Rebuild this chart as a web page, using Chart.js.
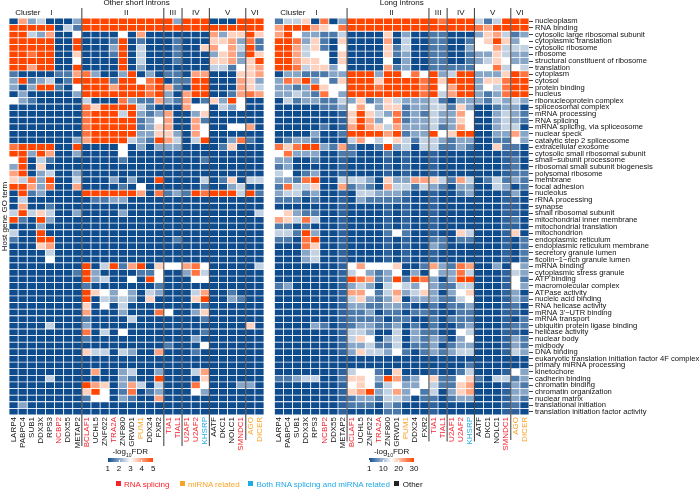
<!DOCTYPE html>
<html><head><meta charset="utf-8">
<script src="https://cdn.jsdelivr.net/npm/chart.js@4/dist/chart.umd.min.js"></script>
<style>
html,body{margin:0;padding:0;background:#fff;width:699px;height:489px;overflow:hidden;font-family:"Liberation Sans",Arial,sans-serif;color:#111}
canvas{position:absolute;top:0}
.t{position:absolute;font-size:8px;line-height:9px;white-space:nowrap}
.c{transform:translateX(-50%)}
.s{position:absolute;width:5px;height:5px;top:481px}
.bar{position:absolute;top:458px;height:4px;background:linear-gradient(to right,#0f4c8e,#fff 50%,#ff4500)}
.k{position:absolute;top:460px;width:.7px;height:2px;background:#fff}
sub{font-size:5px;line-height:0}
</style></head><body>
<canvas id="a" width="272" height="489" style="left:0"></canvas>
<canvas id="b" width="429" height="489" style="left:270px"></canvas>
<div id="o"></div>
<script>
const genes=["LARP4","PABPC4","SUB1","DDX3X","RPS3","NCBP2","DDX55","METAP2","BCLAF1","UCHL5","ZNF622","TRA2A","ZNF800","GRWD1","PUM1","DDX24","FXR2","TIA1","TIAL1","U2AF1","U2AF2","KHSRP","AATF","DKC1","NOLC1","SMNDC1","AGO","DICER"];
const splicingGenes=["NCBP2","BCLAF1","TRA2A","TIA1","TIAL1","U2AF1","U2AF2","SMNDC1"];
const mirnaGenes=["PUM1","AGO","DICER"];
const bothGenes=["KHSRP"];
const goTerms=["nucleoplasm","RNA binding","cytosolic large ribosomal subunit","cytoplasmic translation","cytosolic ribosome","ribosome","structural constituent of ribosome","translation","cytoplasm","cytosol","protein binding","nucleus","ribonucleoprotein complex","spliceosomal complex","mRNA processing","RNA splicing","mRNA splicing, via spliceosome","nuclear speck","catalytic step 2 spliceosome","extracellular exosome","cytosolic small ribosomal subunit","small−subunit processome","ribosomal small subunit biogenesis","polysomal ribosome","membrane","focal adhesion","nucleolus","rRNA processing","synapse","small ribosomal subunit","mitochondrial inner membrane","mitochondrial translation","mitochondrion","endoplasmic reticulum","endoplasmic reticulum membrane","secretory granule lumen","ficolin−1−rich granule lumen","mRNA binding","cytoplasmic stress granule","ATP binding","macromolecular complex","ATPase activity","nucleic acid binding","RNA helicase activity","mRNA 3'−UTR binding","mRNA transport","ubiquitin protein ligase binding","helicase activity","nuclear body","midbody","DNA binding","eukaryotic translation initiation factor 4F complex","primary miRNA processing","kinetochore","cadherin binding","chromatin binding","chromatin organization","nuclear matrix","translational initiation","translation initiation factor activity"];
const clusterNames=["I","II","III","IV","V","VI"];
const clusterSizes=[8,9,2,3,4,2];
// Read levels per cell, 1 (lowest, deep blue) .. 5 (white) .. 9 (highest, red-orange); a = 1.5
const shortIntronLevels=[
"17341113 999999999 93 999 1119 99",
"99999142 999999999 99 999 9999 99",
"99437115 111151711 11 111 7366 96",
"99999119 111291211 12 111 6673 82",
"99999119 111391411 12 116 7574 92",
"99899116 111291411 12 111 3673 96",
"99999115 111191411 12 111 6673 69",
"99799119 111191311 11 111 4425 67",
"21111227 831139131 22 177 1116 67",
"39234129 999299589 12 299 1117 63",
"31399215 999799989 72 199 1117 64",
"13111113 999999989 31 799 1127 87",
"53211111 411183227 32 712 6395 11",
"11111111 869999421 11 755 1435 11",
"11111111 899949323 71 136 1111 11",
"11111111 899999235 71 172 1111 11",
"11111111 899999236 71 175 1155 71",
"11111111 899999336 63 175 1111 11",
"11111113 799994329 74 149 1138 21",
"89999119 111151313 33 111 1261 11",
"99397113 111151111 11 111 1111 11",
"59142111 111121111 11 112 1111 11",
"39161111 111111111 11 111 1111 11",
"79134113 111111111 11 111 1111 11",
"64839114 111313119 11 114 1261 44",
"99738117 111121511 11 112 1134 11",
"19231111 999999718 23 298 9994 92",
"14111111 122331111 11 111 1111 11",
"17112111 111111111 11 111 1111 11",
"49464113 111131111 11 111 1111 14",
"92193111 111111111 11 111 1111 11",
"11131111 111111111 11 111 1111 11",
"41191111 111111111 11 111 1111 11",
"21199111 111111111 12 111 1111 11",
"11167111 111111111 11 111 1111 11",
"11114111 111111111 11 111 1111 11",
"11115111 111111111 11 111 1111 11",
"11111111 914927916 55 785 1111 14",
"11111112 931111225 11 384 1111 11",
"11111111 934115195 11 155 1111 11",
"11111111 211111112 11 111 1111 11",
"11111111 965353143 11 147 1121 11",
"11111111 914343161 11 169 1132 11",
"11111111 615141111 11 112 1111 11",
"11111111 711131118 51 136 1111 11",
"11111111 211114111 11 112 1111 11",
"11114111 311111111 11 111 1111 61",
"11111111 814151111 11 112 1111 11",
"11111111 211111111 11 131 1111 11",
"11111111 111111111 21 115 1111 11",
"11111111 644143117 11 121 1111 11",
"11111111 111111111 11 111 1111 11",
"11111111 111111111 11 111 1111 11",
"11111111 171134113 11 147 1111 11",
"11114111 111132119 11 116 1111 11",
"11111111 976137414 11 185 1113 31",
"11111111 695128123 11 153 1111 11",
"11111111 255132117 11 111 1111 11",
"13111111 111111111 11 111 1111 11",
"11111111 111111111 11 111 1111 11"];
const longIntronLevels=[
"24461813 999999999 98 999 4249 99",
"79997658 999999999 99 999 8799 99",
"79533224 111161311 22 111 3674 23",
"99836216 111171411 22 112 5696 35",
"99746215 111162411 22 113 5574 44",
"99745516 111162311 22 112 3364 33",
"99766516 111151311 22 112 3465 33",
"99846635 111172311 22 222 5584 54",
"13322233 999399585 93 499 3336 98",
"38793526 999699998 96 999 3668 99",
"33239655 999899998 95 799 3548 99",
"33432853 999999998 94 799 3238 99",
"14233224 362364333 42 133 3243 43",
"11111223 575366233 44 263 1123 31",
"1111111a 696438232 43 375 1134 32",
"1111111a 697358233 43 365 1134 32",
"1111121a 797647333 42 375 1134 41",
"11113112 999979233 95 699 1133 73",
"12332111 475456424 43 233 1122 53",
"86899327 211293414 42 232 1162 21",
"58333112 211121a11 a1 111 111a a1",
"3311211a 1111a1a11 a1 111 111a 21",
"2311111a 1111a1a11 a1 111 111a 21",
"4512311a 1111a1a11 a1 111 111a 22",
"33289114 443163377 64 274 1242 32",
"28446117 232174424 32 133 1143 12",
"3442311a 144333211 a1 123 111a 31",
"2221211a 132222a11 a1 111 111a a1",
"1111111a 1111a1a11 a1 111 111a a1",
"5632211a 1111a1a11 a1 111 111a a1",
"7648411a 1111a1a11 a1 111 111a 21",
"2212111a 1111a1a11 a1 111 111a a1",
"4429311a 111125211 a1 164 111a 61",
"2218911a 1111a1a11 22 122 111a 12",
"1118611a 1111a1a11 32 111 111a 12",
"1113411a 1111a1a11 a1 111 111a 12",
"1113411a 1111a1a11 a1 111 111a 12",
"1111111a 575556112 73 287 1131 53",
"1111111a 453235131 53 384 111a 43",
"1111111a 987239298 31 399 111a 52",
"2311111a 343145435 32 244 111a 53",
"1111111a 775247346 31 356 111a 31",
"1111111a 463236133 32 245 111a 32",
"1111111a 332233211 21 223 111a 21",
"1111111a 223122122 a1 122 111a a1",
"1111111a 222212211 21 222 111a 12",
"1111321a 233223121 21 123 111a 22",
"1111111a 443114132 21 154 111a a1",
"1111111a 465134132 32 135 111a 32",
"1111111a 334224122 31 233 111a 32",
"1111111a 364435212 32 344 111a 43",
"11111111 111111111 11 111 1111 11",
"11111111 111111111 11 112 1111 11",
"1111111a 455216111 a1 124 111a 53",
"22344112 665397235 62 256 2144 23",
"1111111a 565245335 42 267 111a 32",
"1111111a 679347352 41 367 111a 33",
"1111111a 233244312 21 233 111a 32",
"1111111a 222132111 a1 111 111a 21",
"1111111a 111122111 a1 111 111a a1"];

const FONT='"Liberation Sans",Arial,sans-serif';
const LOW=[15,76,142],MID=[255,255,255],HIGH=[255,69,0];
function levelColor(c){const d=c==='a'?1.5:Number(c),t=(d-1)/8,a=t<.5?LOW:MID,b=t<.5?MID:HIGH,u=t<.5?t*2:(t-.5)*2;
 return 'rgb('+a.map((v,i)=>Math.round(v+(b[i]-v)*u)).join(',')+')';}
function geneColor(g){return splicingGenes.includes(g)?'#f5222d':mirnaGenes.includes(g)?'#f9a326':bothGenes.includes(g)?'#1fa9e6':'#111';}
const clusterShift=[6,3.4,0,0,0,0];

function panelPlugin(title,titleX,cfg){return {id:'panel',afterDraw(c){
 const ctx=c.ctx,x=c.scales.x,half=(x.getPixelForValue(1)-x.getPixelForValue(0))/2;
 ctx.save();ctx.fillStyle='#111';ctx.font='8px '+FONT;ctx.textAlign='center';ctx.textBaseline='middle';
 ctx.fillText(title,titleX,3.2);
 let s=0;
 clusterNames.forEach((n,i)=>{
   const l=x.getPixelForValue(s)-half,r=x.getPixelForValue(s+clusterSizes[i]-1)+half;
   ctx.fillText(n,(l+r)/2+clusterShift[i],13);
   if(i===0) ctx.fillText('Cluster',l+cfg.clusterOffset,13);
   if(i>0){ctx.strokeStyle='#222';ctx.lineWidth=.9;ctx.beginPath();ctx.moveTo(l,8);ctx.lineTo(l,i===5?cfg.lastEnd:cfg.sepEnd);ctx.stroke();}
   s+=clusterSizes[i];
 });
 ctx.restore();
}};}

function makeChart(id,levels,withTerms,title,titleX,cfg){
 const rows=levels.map(r=>r.replace(/ /g,'').split(''));
 const datasets=rows.map((row,i)=>({label:goTerms[i],data:genes.map(()=>1),
   backgroundColor:row.map(levelColor),borderColor:'rgba(255,255,255,.72)',borderWidth:.4,borderSkipped:false,inflateAmount:0,
   barPercentage:1,categoryPercentage:1}));
 const tickFont={size:8,family:FONT};
 return new Chart(document.getElementById(id),{type:'bar',
  data:{labels:genes,datasets},
  plugins:[panelPlugin(title,titleX,cfg)],
  options:{responsive:false,animation:false,events:[],devicePixelRatio:1,
   layout:{autoPadding:false,padding:cfg.padding},
   plugins:{legend:{display:false},tooltip:{enabled:false},title:{display:false}},
   scales:{
    x:{stacked:true,grid:{display:false,drawTicks:false},border:{display:false},
       afterFit(s){s.height=74;},
       ticks:{autoSkip:false,minRotation:90,maxRotation:90,padding:2,font:tickFont,color:c=>geneColor(genes[c.index])}},
    y:withTerms?{type:'linear',position:'right',stacked:true,min:0,max:60,reverse:true,
       afterBuildTicks(s){s.ticks=goTerms.map((_,i)=>({value:i+.5}));},
       afterFit(s){s.width=cfg.axisWidth;},
       border:{display:false},
       grid:{drawOnChartArea:false,drawTicks:true,tickLength:4,tickColor:'#111',tickWidth:.8},
       ticks:{autoSkip:false,padding:2,font:{size:7.6,family:FONT},color:'#111',callback:(v,i)=>goTerms[i]}}
     :{type:'linear',position:'left',stacked:true,min:0,max:60,reverse:true,
       afterFit(s){s.width=9;},
       border:{display:false},grid:{display:false,drawTicks:false},ticks:{display:false},
       title:{display:true,text:'Host gene GO term',font:tickFont,color:'#111',padding:0}}
   }}});
}
makeChart('a',shortIntronLevels,false,'Other short introns',136.5,{padding:{top:18,left:0,right:8,bottom:0},clusterOffset:18.8,sepEnd:446,lastEnd:440});
makeChart('b',longIntronLevels,true,'Long introns',131.7,{padding:{top:18,left:4.3,right:0,bottom:0},axisWidth:170,clusterOffset:18.5,sepEnd:441.5,lastEnd:440});

// legend and colour bars as page text
const o=document.getElementById('o');
function put(cls,x,y,html,extra){const d=document.createElement('div');d.className=cls;d.style.left=x+'px';if(y!=null)d.style.top=y+'px';d.innerHTML=html;if(extra)Object.assign(d.style,extra);o.appendChild(d);return d;}
const legendItems=[["RNA splicing",118,'#f5222d'],["miRNA related",182,'#f9a326'],["Both RNA splicing and miRNA related",250.5,'#1fa9e6'],["Other",396.7,'#222']];
legendItems.forEach(([t,x,col])=>{put('s',x-2.5,null,'',{background:col});put('t',x+6,480,t,{color:col==='#222'?'#111':col});});
const barFrames=[{title:130.3,l:107.7,w:45.5,ticks:[1,2,3,4,5],min:1,max:5},{title:391.7,l:369.3,w:44.7,ticks:[1,10,20,30],min:1,max:30}];
barFrames.forEach(f=>{
  put('t c',f.title,447,'-log<sub>10</sub>FDR');
  put('bar',f.l,null,'',{width:f.w+'px'});
  f.ticks.forEach(v=>{const p=f.l+(v-f.min)/(f.max-f.min)*f.w;put('k',p-.35,null,'');put('t c',p,463.5,String(v));});
});
</script></body></html>
